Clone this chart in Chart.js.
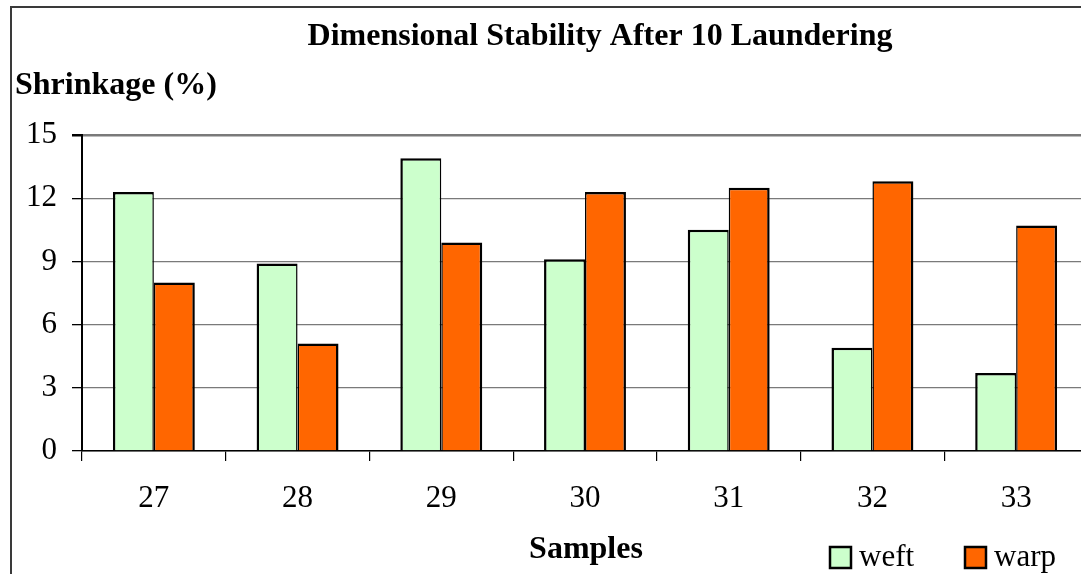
<!DOCTYPE html>
<html>
<head>
<meta charset="utf-8">
<script src="https://cdn.jsdelivr.net/npm/chart.js@4/dist/chart.umd.min.js"></script>
<style>
  html, body { margin: 0; padding: 0; background: #fff; overflow: hidden; }
  /* the plot runs a few pixels past the right edge of the frame */
  #wrap { width: 1081px; height: 574px; overflow: hidden; }
</style>
</head>
<body>
<div id="wrap"><canvas id="shrinkChart" width="1088" height="574"></canvas></div>
<script>
const samples = ['27', '28', '29', '30', '31', '32', '33'];
const weft = [12.3, 8.9, 13.9, 9.1, 10.5, 4.9, 3.7];
const warp = [8.0, 5.1, 9.9, 12.3, 12.5, 12.8, 10.7];

const FONT = '"Liberation Serif", "Times New Roman", serif';

// frame, headings and legend drawn straight onto the canvas
const decorations = {
    id: 'decorations',
    beforeDraw(chart) {
        const ctx = chart.ctx;
        ctx.save();
        ctx.strokeStyle = '#3a3a3a';
        ctx.lineWidth = 2;
        ctx.strokeRect(11, 7, chart.width + 20, chart.height + 20);
        ctx.restore();
    },
    afterDraw(chart) {
        const ctx = chart.ctx;
        ctx.save();
        ctx.fillStyle = '#000';
        ctx.textBaseline = 'middle';
        ctx.font = 'bold 32px ' + FONT;
        ctx.textAlign = 'center';
        ctx.fillText('Dimensional Stability After 10 Laundering', 600, 37);
        ctx.textAlign = 'left';
        ctx.fillText('Shrinkage (%)', 15, 86);
        ctx.textAlign = 'center';
        ctx.fillText('Samples', 586, 550);

        // legend
        const ds = chart.data.datasets;
        const items = [[830, ds[0]], [965, ds[1]]];
        ctx.font = '31px ' + FONT;
        ctx.textAlign = 'left';
        items.forEach(([x, d]) => {
            ctx.fillStyle = d.backgroundColor;
            ctx.fillRect(x, 547, 21, 21);
            ctx.strokeStyle = '#000';
            ctx.lineWidth = 2.5;
            ctx.strokeRect(x, 547, 21, 21);
            ctx.fillStyle = '#000';
            ctx.fillText(d.label, x + 29, 558);
        });
        ctx.restore();
    }
};

new Chart(document.getElementById('shrinkChart'), {
    type: 'bar',
    data: {
        labels: samples,
        datasets: [
            {
                label: 'weft',
                data: weft,
                backgroundColor: '#CCFFCC',
                borderColor: '#000',
                borderWidth: { left: 2.5, top: 2.5, right: 1.5, bottom: 0 },
                borderSkipped: false
            },
            {
                label: 'warp',
                data: warp,
                backgroundColor: '#FF6600',
                borderColor: '#000',
                borderWidth: { left: 1.5, top: 2.5, right: 2.5, bottom: 0 },
                borderSkipped: false
            }
        ]
    },
    options: {
        responsive: false,
        animation: false,
        devicePixelRatio: 1,
        layout: { padding: { top: 135, right: 0, left: 0, bottom: 0 } },
        datasets: { bar: { categoryPercentage: 0.57, barPercentage: 1.0 } },
        plugins: {
            legend: { display: false },
            title: { display: false },
            tooltip: { enabled: false }
        },
        scales: {
            x: {
                afterFit(scale) { scale.height = 123; },
                grid: {
                    offset: true,
                    drawOnChartArea: false,
                    tickLength: 10,
                    tickColor: '#000',
                    lineWidth: 1.2
                },
                border: { color: '#000', width: 1.5 },
                ticks: {
                    color: '#000',
                    padding: 19,
                    font: { family: FONT, size: 31 }
                }
            },
            y: {
                min: 0,
                max: 15,
                afterFit(scale) { scale.width = 82; },
                grid: {
                    color: '#7a7a7a',
                    lineWidth: (c) => (c.tick && c.tick.value === 15 ? 2.5 : 1.3),
                    tickLength: 10,
                    tickColor: '#000'
                },
                border: { color: '#000', width: 2 },
                ticks: {
                    stepSize: 3,
                    color: '#000',
                    padding: 15,
                    font: { family: FONT, size: 31 }
                }
            }
        }
    },
    plugins: [decorations]
});
</script>
</body>
</html>
